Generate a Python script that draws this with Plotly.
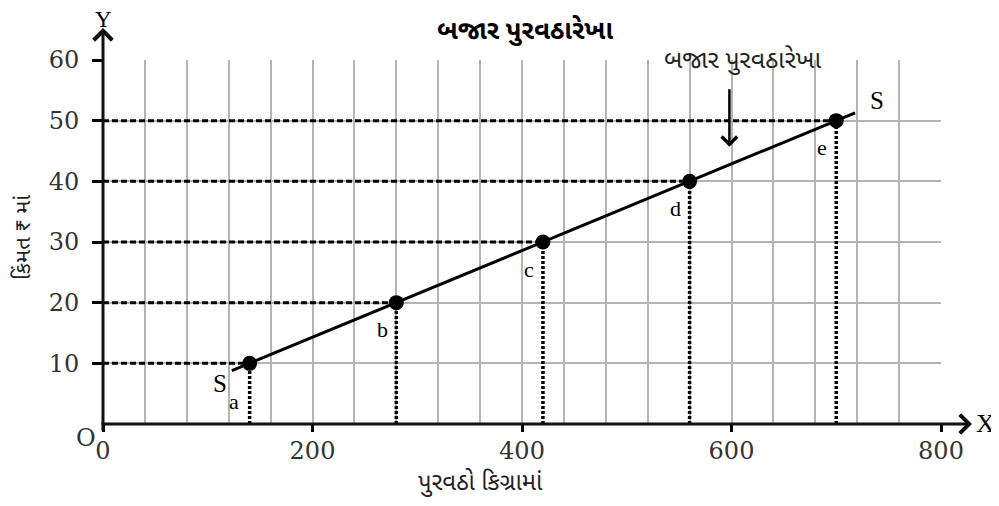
import plotly.graph_objects as go

# ---- data ----
quantity = [140, 280, 420, 560, 700]          # kg supplied
price = [10, 20, 30, 40, 50]                  # price in Rs
point_labels = ["a", "b", "c", "d", "e"]
curve_x = [123, 718]                          # supply line S-S end points
curve_y = [8.8, 51.3]
x_ticks = [0, 200, 400, 600, 800]
y_ticks = [10, 20, 30, 40, 50, 60]

title_text = "બજાર પુરવઠારેખા"
curve_note = "બજાર પુરવઠારેખા"
x_title = "પુરવઠો કિગ્રામાં"
y_title = "કિંમત ₹ માં"

GU = "Noto Sans Gujarati, Lohit Gujarati, Shruti, Noto Sans, sans-serif"
SERIF = "Liberation Serif, Times New Roman, serif"
NUM = "DejaVu Serif, serif"
GRID = "#b4b4b4"

# page has an 8px body margin; plot area sits at page x 103..941, y 60..424
L, T = 95, 52
PW, PH = 838, 364


def px(xp):
    return (xp - 103) / PW


def py(yp):
    return (424 - yp) / PH


fig = go.Figure()

hx, hy = [], []
for q, p in zip(quantity, price):
    hx += [0, q, None]
    hy += [p, p, None]
fig.add_trace(go.Scatter(x=hx, y=hy, mode="lines",
                         line=dict(color="black", width=3, dash="6px,3px"),
                         hoverinfo="skip", showlegend=False))
vx, vy = [], []
for q, p in zip(quantity, price):
    vx += [q, q, None]
    vy += [0, p, None]
fig.add_trace(go.Scatter(x=vx, y=vy, mode="lines",
                         line=dict(color="black", width=3.5, dash="3px,2px"),
                         hoverinfo="skip", showlegend=False))
fig.add_trace(go.Scatter(x=curve_x, y=curve_y, mode="lines",
                         line=dict(color="black", width=3),
                         showlegend=False))
fig.add_trace(go.Scatter(x=quantity, y=price, mode="markers",
                         marker=dict(color="black", size=15),
                         showlegend=False, cliponaxis=False))

ann = []
shifts = {"a": (-16, -38)}
for q, p, lab in zip(quantity, price, point_labels):
    dx, dy = shifts.get(lab, (-14, -27))
    ann.append(dict(x=q, y=p, text=lab, showarrow=False, xshift=dx, yshift=dy,
                    xanchor="center", yanchor="middle",
                    font=dict(family=SERIF, size=22, color="black")))
ann.append(dict(x=curve_x[0], y=curve_y[0], text="S", showarrow=False, xshift=-12, yshift=-13,
                xanchor="center", yanchor="middle",
                font=dict(family=SERIF, size=25, color="black")))
ann.append(dict(x=curve_x[1], y=curve_y[1], text="S", showarrow=False, xshift=22, yshift=12,
                xanchor="center", yanchor="middle",
                font=dict(family=SERIF, size=25, color="black")))
ann.append(dict(x=598, y=45.7, text="", showarrow=True, ax=0, ay=-59,
                arrowhead=4, arrowsize=1.2, arrowwidth=2.5, arrowcolor="black"))


def ptext(xp, yp, text, font, **kw):
    d = dict(x=px(xp), y=py(yp), xref="paper", yref="paper", text=text,
             showarrow=False, xanchor="center", yanchor="middle", font=font)
    d.update(kw)
    return d


ann.append(ptext(742, 62, curve_note, dict(family=GU, size=25, color="#222")))
ann.append(dict(x=px(972), y=0, xref="paper", yref="paper", text="",
                showarrow=True, ax=-872, ay=0, arrowhead=4, arrowsize=1.2,
                arrowwidth=3, arrowcolor="#111"))
ann.append(dict(x=0, y=py(28), xref="paper", yref="paper", text="",
                showarrow=True, ax=0, ay=404, arrowhead=4, arrowsize=1.2,
                arrowwidth=3, arrowcolor="#111"))
ann.append(ptext(985, 423, "X", dict(family=SERIF, size=26, color="black")))
ann.append(ptext(103, 20, "Y", dict(family=SERIF, size=23, color="black")))
ann.append(ptext(86, 438, "O", dict(family=NUM, size=24, color="#333")))
ann.append(ptext(525, 32, "<b>" + title_text + "</b>", dict(family=GU, size=26, color="black")))
ann.append(ptext(480, 484, x_title, dict(family=GU, size=24, color="#222")))
ann.append(ptext(24, 238, y_title, dict(family=GU, size=22, color="#222"), textangle=-90))

fig.update_layout(
    width=L + PW + 58, height=T + PH + 82,
    margin=dict(l=L, r=58, t=T, b=82),
    paper_bgcolor="white", plot_bgcolor="white",
    annotations=ann,
    xaxis=dict(range=[0, 800], tickmode="array", tickvals=x_ticks,
               showgrid=True, gridcolor=GRID, gridwidth=1.5,
               minor=dict(tickmode="array", tickvals=list(range(0, 801, 40)),
                          showgrid=True, gridcolor=GRID, gridwidth=1.5, ticks=""),
               ticks="outside", ticklen=7, tickwidth=2.5, tickcolor="black",
               ticklabelstandoff=-2,
               showline=False, zeroline=False,
               tickfont=dict(family=NUM, size=24, color="#333")),
    yaxis=dict(range=[0, 60], tickmode="array", tickvals=y_ticks,
               showgrid=True, gridcolor=GRID, gridwidth=1.5,
               ticks="outside", ticklen=10, tickwidth=2.5, tickcolor="black",
               ticklabelstandoff=8,
               showline=False, zeroline=False,
               tickfont=dict(family=NUM, size=24, color="#333")),
)

fig.write_html("out.html")
